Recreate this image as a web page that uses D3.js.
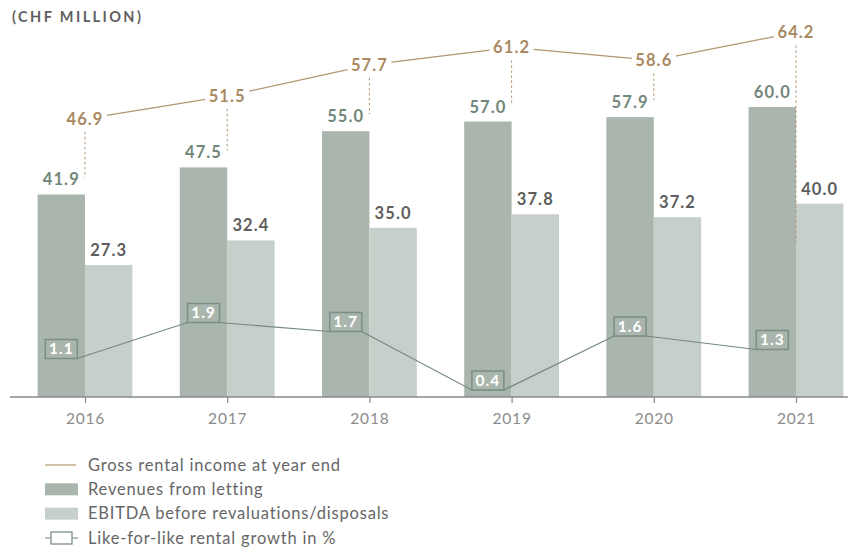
<!DOCTYPE html>
<html>
<head>
<meta charset="utf-8">
<script src="https://cdn.jsdelivr.net/npm/d3@7"></script>
<style>
  html, body { margin: 0; padding: 0; background: #fff; }
  svg { display: block; font-family: Lato, "Open Sans", sans-serif; }
</style>
</head>
<body>
<svg id="chart" width="848" height="549"></svg>
<script>
// ---- data ----
const years = ["2016", "2017", "2018", "2019", "2020", "2021"];
const revenues = [41.9, 47.5, 55.0, 57.0, 57.9, 60.0];
const ebitda = [27.3, 32.4, 35.0, 37.8, 37.2, 40.0];
const grossIncome = [46.9, 51.5, 57.7, 61.2, 58.6, 64.2];
const lflGrowth = [1.1, 1.9, 1.7, 0.4, 1.6, 1.3];
const legendLabels = [
  "Gross rental income at year end",
  "Revenues from letting",
  "EBITDA before revaluations/disposals",
  "Like-for-like rental growth in %"
];

// ---- styles ----
const C = {
  rev: "#a9b5ad",
  ebitda: "#c7cfca",
  gross: "#b39672",
  grossText: "#a9895f",
  revText: "#71877b",
  ebitdaText: "#5e5e5e",
  growth: "#72887e",
  boxStroke: "#7b8f84",
  axis: "#8a8a8a",
  tick: "#8c8c8c",
  legend: "#666666"
};

const svg = d3.select("#chart");
const baseline = 397;
const barW = 47.4;

const x = d3.scalePoint().domain(years).range([85, 796]);
const yBar = d3.scaleLinear().domain([0, 60]).range([baseline, 107]);
const yGross = d3.scaleLinear().domain([45, 65]).range([128.4, 28.4]);
const yGrowth = d3.scaleLinear().domain([0, 2]).range([408, 318]);

// title
svg.append("text")
  .attr("x", 12).attr("y", 22)
  .attr("font-size", 14.5).attr("font-weight", 700)
  .attr("letter-spacing", 2.4)
  .attr("fill", "#5f5f5f")
  .text("(CHF MILLION)");

// bars
const g = svg.append("g");
g.selectAll("rect.rev").data(years).join("rect")
  .attr("class", "rev")
  .attr("x", d => x(d) - barW)
  .attr("width", barW)
  .attr("y", (d, i) => yBar(revenues[i]))
  .attr("height", (d, i) => baseline - yBar(revenues[i]))
  .attr("fill", C.rev);

g.selectAll("rect.eb").data(years).join("rect")
  .attr("class", "eb")
  .attr("x", d => x(d))
  .attr("width", barW)
  .attr("y", (d, i) => yBar(ebitda[i]))
  .attr("height", (d, i) => baseline - yBar(ebitda[i]))
  .attr("fill", C.ebitda);

// bar labels
const numFont = sel => sel.attr("font-size", 16.5).attr("font-weight", 700)
  .attr("letter-spacing", 1.1).attr("text-anchor", "middle");

g.selectAll("text.revl").data(years).join("text")
  .attr("class", "revl")
  .call(numFont)
  .attr("x", d => x(d) - barW / 2)
  .attr("y", (d, i) => yBar(revenues[i]) - 9)
  .attr("fill", C.revText)
  .text((d, i) => revenues[i].toFixed(1));

g.selectAll("text.ebl").data(years).join("text")
  .attr("class", "ebl")
  .call(numFont)
  .attr("x", d => x(d) + barW / 2)
  .attr("y", (d, i) => yBar(ebitda[i]) - 9)
  .attr("fill", C.ebitdaText)
  .text((d, i) => ebitda[i].toFixed(1));

// gross rental income dashed leaders
const last = years.length - 1;
g.selectAll("line.lead").data(years).join("line")
  .attr("class", "lead")
  .attr("x1", d => x(d)).attr("x2", d => x(d))
  .attr("y1", (d, i) => yGross(grossIncome[i]) + 13)
  .attr("y2", (d, i) => i === last ? yBar(ebitda[i]) + 40 : yBar(revenues[i]) - 17)
  .attr("stroke", C.gross)
  .attr("stroke-width", 1)
  .attr("stroke-dasharray", "2.5,2.5");

// gross line
const grossLine = d3.line()
  .x((d, i) => x(years[i]))
  .y(d => yGross(d));
g.append("path")
  .datum(grossIncome)
  .attr("d", grossLine)
  .attr("fill", "none")
  .attr("stroke", C.gross)
  .attr("stroke-width", 1.2);

const gl = g.selectAll("g.gl").data(years).join("g")
  .attr("class", "gl")
  .attr("transform", (d, i) => `translate(${x(d)},${yGross(grossIncome[i])})`);
gl.append("rect")
  .attr("x", -22).attr("y", -10).attr("width", 44).attr("height", 20)
  .attr("fill", "#fff");
gl.append("text")
  .call(numFont)
  .attr("y", 6)
  .attr("fill", C.grossText)
  .text((d, i) => grossIncome[i].toFixed(1));

// axis
const axis = svg.append("g")
  .attr("transform", `translate(0,${baseline})`);
axis.append("line")
  .attr("x1", 10).attr("x2", 848)
  .attr("stroke", C.axis).attr("stroke-width", 1.5);
axis.call(d3.axisBottom(x).tickSize(6).tickPadding(10))
  .call(a => a.select(".domain").remove())
  .call(a => a.selectAll(".tick line").attr("stroke", C.axis).attr("stroke-width", 1.2))
  .call(a => a.selectAll(".tick text")
    .attr("font-family", "Lato, sans-serif")
    .attr("font-size", 15.5)
    .attr("letter-spacing", 0.8)
    .attr("fill", C.tick));

// like-for-like growth line
const boxW = 32, boxH = 19;
const growthPts = [];
lflGrowth.forEach((v, i) => {
  const cx = x(years[i]) - barW / 2;
  growthPts.push([cx - boxW / 2, yGrowth(v)]);
  growthPts.push([cx + boxW / 2, yGrowth(v)]);
});
g.append("path")
  .attr("d", d3.line()(growthPts))
  .attr("fill", "none")
  .attr("stroke", C.growth)
  .attr("stroke-width", 1.2);

const gb = g.selectAll("g.gb").data(years).join("g")
  .attr("class", "gb")
  .attr("transform", (d, i) => `translate(${x(d) - barW / 2},${yGrowth(lflGrowth[i])})`);
gb.append("rect")
  .attr("x", -boxW / 2).attr("y", -boxH).attr("width", boxW).attr("height", boxH)
  .attr("fill", C.rev)
  .attr("stroke", C.boxStroke).attr("stroke-width", 1.5);
gb.append("text")
  .attr("text-anchor", "middle")
  .attr("y", -4.3)
  .attr("font-size", 15.5).attr("font-weight", 700).attr("letter-spacing", 1)
  .attr("fill", "#fff")
  .text((d, i) => lflGrowth[i].toFixed(1));

// legend
const lg = svg.append("g");
const rowY = d3.scaleLinear().domain([0, 3]).range([465, 538]);
legendLabels.forEach((t, i) => {
  const y = rowY(i);
  if (i === 0) {
    lg.append("line").attr("x1", 45).attr("x2", 76).attr("y1", y).attr("y2", y)
      .attr("stroke", C.gross).attr("stroke-width", 1.2);
  } else if (i === 1 || i === 2) {
    lg.append("rect").attr("x", 45).attr("y", y - 6).attr("width", 33).attr("height", 12)
      .attr("fill", i === 1 ? C.rev : C.ebitda);
  } else {
    lg.append("line").attr("x1", 45).attr("x2", 78).attr("y1", y).attr("y2", y)
      .attr("stroke", C.growth).attr("stroke-width", 1.2);
    lg.append("rect").attr("x", 51).attr("y", y - 6).attr("width", 21).attr("height", 12)
      .attr("fill", "#fff").attr("stroke", C.growth).attr("stroke-width", 1.2);
  }
  lg.append("text")
    .attr("x", 88).attr("y", y + 5.5)
    .attr("font-size", 16.5).attr("letter-spacing", 0.8)
    .attr("fill", C.legend)
    .text(t);
});
</script>
</body>
</html>
